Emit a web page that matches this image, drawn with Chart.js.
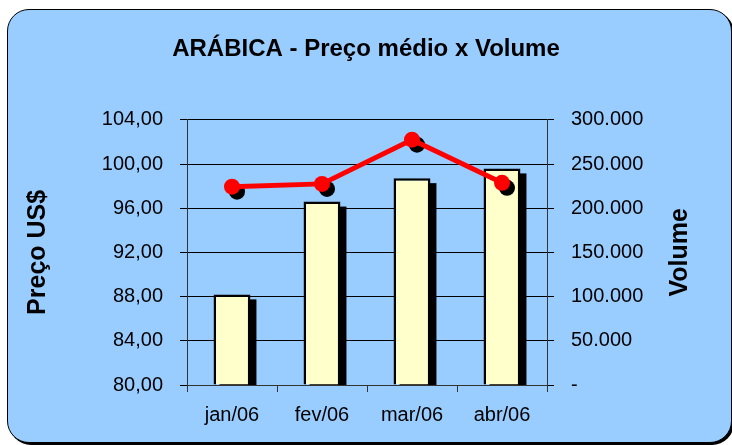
<!DOCTYPE html>
<html>
<head>
<meta charset="utf-8">
<script src="https://cdn.jsdelivr.net/npm/chart.js@4"></script>
<style>
  html, body { margin: 0; padding: 0; background: #ffffff; }
  #panel {
    position: absolute; left: 7px; top: 9px; width: 723px; height: 432px;
    background: #99ccff; border: 1.5px solid #000; border-radius: 22px;
    box-shadow: 2px 2px 0 #000;
  }
  #wrap { position: absolute; left: 0; top: 0; width: 732px; height: 445px; }
</style>
</head>
<body>
<div id="panel"></div>
<div id="wrap"><canvas id="chart" width="732" height="445"></canvas></div>
<script>
// Months on the x axis
const months = ['jan/06', 'fev/06', 'mar/06', 'abr/06'];
// Average price in US$ (left axis, red line)
const precoMedio = [97.95, 98.2, 102.2, 98.3];
// Volume (right axis, bars)
const volume = [102500, 207500, 234000, 245000];

const fontFamily = 'Arial, "Liberation Sans", sans-serif';

// Black offset shadows under bars and markers, and the right axis title
const shadowPlugin = {
  id: 'shadows',
  beforeDatasetDraw(chart, args) {
    const meta = args.meta;
    const ctx = chart.ctx;
    const area = chart.chartArea;
    ctx.save();
    ctx.beginPath();
    ctx.rect(area.left, area.top, area.right - area.left, area.bottom - area.top);
    ctx.clip();
    ctx.fillStyle = '#000';
    if (meta.type === 'bar') {
      meta.data.forEach(bar => {
        const w = bar.width;
        ctx.fillRect(bar.x - w / 2 + 6, bar.y + 5, w, bar.base - bar.y);
      });
    } else if (meta.type === 'line') {
      meta.data.forEach(pt => {
        ctx.beginPath();
        ctx.arc(pt.x + 5, pt.y + 5, 8, 0, Math.PI * 2);
        ctx.fill();
      });
    }
    ctx.restore();
  },
  afterDraw(chart) {
    const ctx = chart.ctx;
    const area = chart.chartArea;
    ctx.save();
    ctx.translate(680, (area.top + area.bottom) / 2);
    ctx.rotate(-Math.PI / 2);
    ctx.font = 'bold 25px ' + fontFamily;
    ctx.fillStyle = '#000';
    ctx.textAlign = 'center';
    ctx.textBaseline = 'middle';
    ctx.fillText('Volume', 0, 0);
    ctx.restore();
  }
};

const ctx = document.getElementById('chart').getContext('2d');
new Chart(ctx, {
  data: {
    labels: months,
    datasets: [
      {
        type: 'line',
        label: 'Preço médio',
        data: precoMedio,
        yAxisID: 'y',
        borderColor: '#ff0000',
        backgroundColor: '#ff0000',
        borderWidth: 5,
        pointRadius: 8,
        pointBackgroundColor: '#ff0000',
        pointBorderWidth: 0,
        tension: 0,
        order: 0
      },
      {
        type: 'bar',
        label: 'Volume',
        data: volume,
        yAxisID: 'y1',
        backgroundColor: '#ffffcc',
        borderColor: '#000',
        borderWidth: 2.5,
        categoryPercentage: 1,
        barPercentage: 0.41,
        order: 1
      }
    ]
  },
  options: {
    responsive: false,
    animation: false,
    layout: { padding: 0 },
    plugins: {
      legend: { display: false },
      tooltip: { enabled: false },
      title: {
        display: true,
        text: 'ARÁBICA - Preço médio x Volume',
        color: '#000',
        font: { family: fontFamily, size: 24, weight: 'bold', lineHeight: 1.2 },
        padding: { top: 35, bottom: 56 }
      }
    },
    scales: {
      x: {
        offset: true,
        grid: { display: true, drawOnChartArea: false, offset: true, color: '#333', tickLength: 7 },
        border: { color: '#333', width: 1 },
        ticks: { color: '#000', font: { family: fontFamily, size: 20 }, padding: 11 },
        afterFit(scale) { scale.height = 60; }
      },
      y: {
        position: 'left',
        min: 80,
        max: 104,
        ticks: {
          stepSize: 4,
          color: '#000',
          padding: 17,
          font: { family: fontFamily, size: 20 },
          callback: v => v.toFixed(2).replace('.', ',')
        },
        grid: { color: '#000', lineWidth: 1, tickLength: 7 },
        border: { color: '#333', width: 1 },
        title: {
          display: true,
          text: 'Preço US$',
          color: '#000',
          font: { family: fontFamily, size: 25, weight: 'bold', lineHeight: 1.2 },
          padding: { top: 23, bottom: 0 }
        },
        afterFit(scale) { scale.width = 187; }
      },
      y1: {
        position: 'right',
        min: 0,
        max: 300000,
        ticks: {
          stepSize: 50000,
          color: '#000',
          padding: 17,
          font: { family: fontFamily, size: 20 },
          callback: v => v === 0 ? '-' : v.toLocaleString('de-DE')
        },
        grid: { drawOnChartArea: false, color: '#000', tickLength: 7 },
        border: { color: '#333', width: 1 },
        afterFit(scale) { scale.width = 185; }
      }
    }
  },
  plugins: [shadowPlugin]
});
</script>
</body>
</html>
